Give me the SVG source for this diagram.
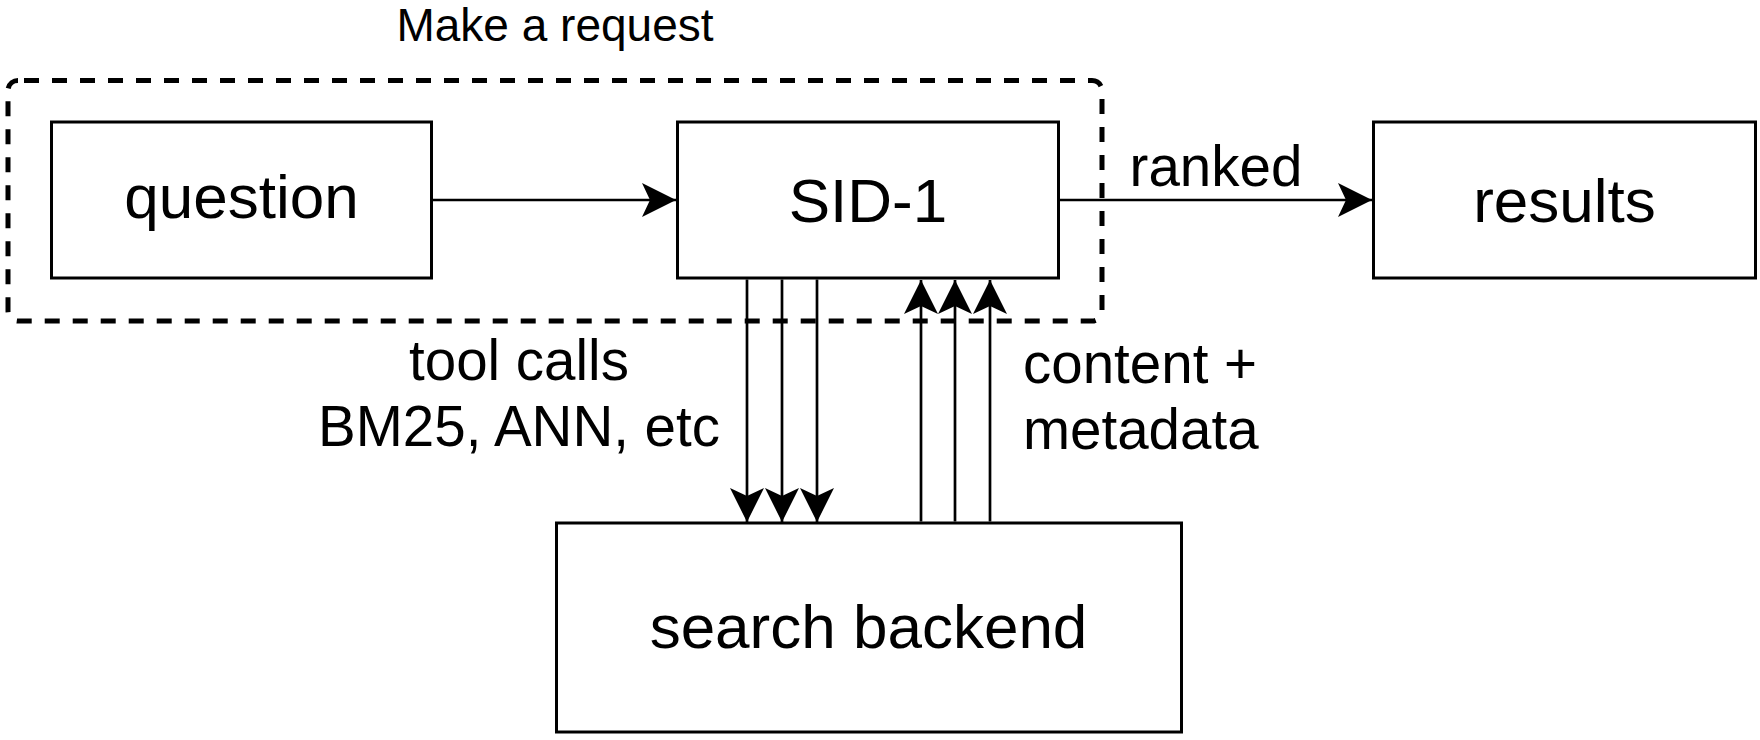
<svg xmlns="http://www.w3.org/2000/svg" width="1760" height="740" viewBox="0 0 1760 740">
<style>
.box{fill:#fff;stroke:#000;stroke-width:3}
.lbl{font-family:"Liberation Sans",Arial,sans-serif;fill:#000}
.node{font-size:62px;text-anchor:middle}
.edge{font-size:56.5px}
.conn{fill:none;stroke:#000;stroke-width:2.7}
</style>
<defs>
<marker id="ah" markerUnits="userSpaceOnUse" viewBox="-36 -18 38 36" refX="0" refY="0" markerWidth="38" markerHeight="36" orient="auto">
<path d="M0,0 L-34,-17 L-26,0 L-34,17 Z" fill="#000"/>
</marker>
</defs>
<rect width="1760" height="740" fill="#fff"/>
<g id="group-request">
<rect x="8" y="80.5" width="1094" height="240.5" rx="10" fill="none" stroke="#000" stroke-width="5" stroke-dasharray="15 13" stroke-dashoffset="-6"/>
<text class="lbl" x="555" y="41" font-size="46" text-anchor="middle">Make a request</text>
</g>
<g id="node-question">
<rect class="box" x="51.5" y="122" width="380" height="156"/>
<text class="lbl node" x="241.5" y="218">question</text>
</g>
<g id="node-sid1">
<rect class="box" x="677.5" y="122" width="381" height="156"/>
<text class="lbl node" x="868" y="222" font-size="60">SID-1</text>
</g>
<g id="node-results">
<rect class="box" x="1373.5" y="122" width="382" height="156"/>
<text class="lbl node" x="1564.5" y="222">results</text>
</g>
<g id="node-search">
<rect class="box" x="556.5" y="523" width="625" height="209"/>
<text class="lbl node" x="868.5" y="648">search backend</text>
</g>
<g id="connectors">
<line class="conn" x1="433" y1="200" x2="676" y2="200" marker-end="url(#ah)"/>
<line class="conn" x1="1060" y1="200" x2="1372" y2="200" marker-end="url(#ah)"/>
<text class="lbl edge" x="1216" y="186" font-size="55" text-anchor="middle">ranked</text>
<line class="conn" x1="747" y1="279.5" x2="747" y2="522" marker-end="url(#ah)"/>
<line class="conn" x1="782" y1="279.5" x2="782" y2="522" marker-end="url(#ah)"/>
<line class="conn" x1="817" y1="279.5" x2="817" y2="522" marker-end="url(#ah)"/>
<line class="conn" x1="921" y1="521.5" x2="921" y2="280" marker-end="url(#ah)"/>
<line class="conn" x1="955" y1="521.5" x2="955" y2="280" marker-end="url(#ah)"/>
<line class="conn" x1="990" y1="521.5" x2="990" y2="280" marker-end="url(#ah)"/>
<text class="lbl edge" x="519" y="380" text-anchor="middle">tool calls</text>
<text class="lbl edge" x="519" y="446" text-anchor="middle">BM25, ANN, etc</text>
<text class="lbl edge" x="1023" y="383">content +</text>
<text class="lbl edge" x="1023" y="449">metadata</text>
</g>
</svg>
